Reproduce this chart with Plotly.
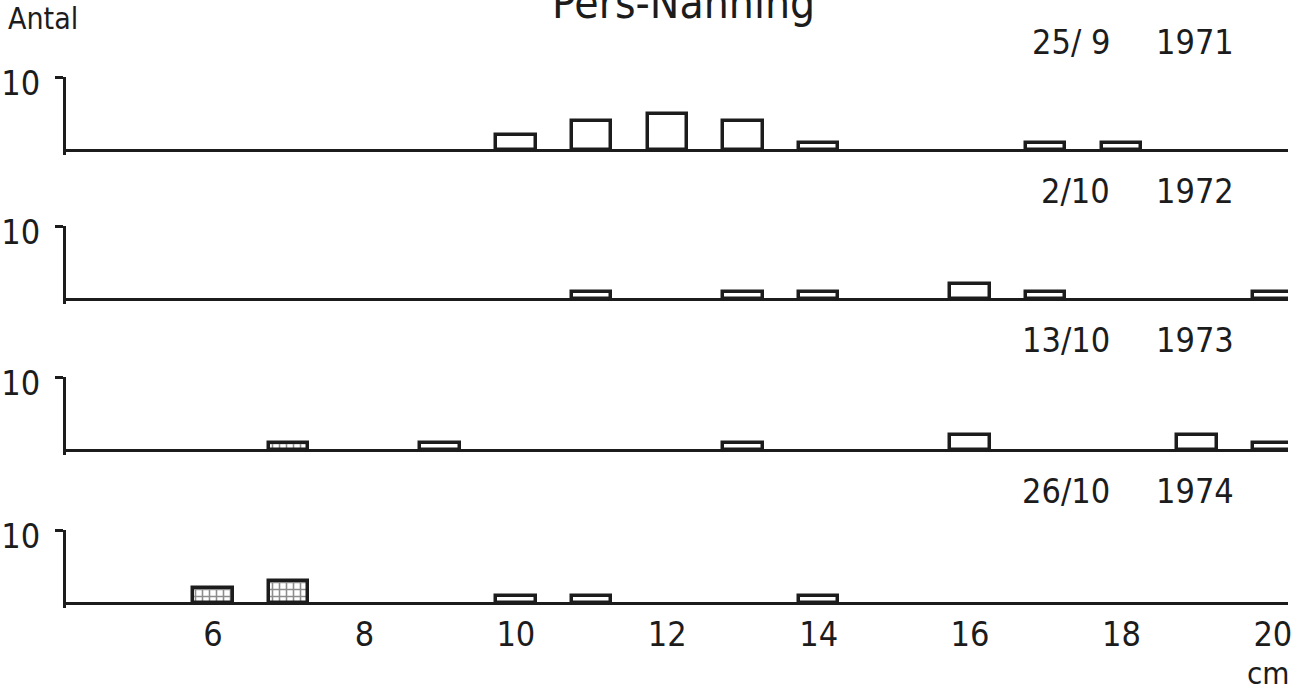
import plotly.graph_objects as go

# ---- data ----
lengths_cm = [6, 7, 8, 9, 10, 11, 12, 13, 14, 15, 16, 17, 18, 19, 20]
panel_dates = ["25/\u00a09", "2/10", "13/10", "26/10"]
panel_years = ["1971", "1972", "1973", "1974"]

# open bars (counts per cm class)
open_1971 = [0, 0, 0, 0, 2, 4, 5, 4, 1, 0, 0, 1, 1, 0, 0]
open_1972 = [0, 0, 0, 0, 0, 1, 0, 1, 1, 0, 2, 1, 0, 0, 1]
open_1973 = [0, 0, 0, 1, 0, 0, 0, 1, 0, 0, 2, 0, 0, 2, 1]
open_1974 = [0, 0, 0, 0, 1, 1, 0, 0, 1, 0, 0, 0, 0, 0, 0]
# hatched bars (counts per cm class)
hatch_1971 = [0] * 15
hatch_1972 = [0] * 15
hatch_1973 = [0, 1, 0, 0, 0, 0, 0, 0, 0, 0, 0, 0, 0, 0, 0]
hatch_1974 = [2, 3, 0, 0, 0, 0, 0, 0, 0, 0, 0, 0, 0, 0, 0]

open_series = [open_1971, open_1972, open_1973, open_1974]
hatch_series = [hatch_1971, hatch_1972, hatch_1973, hatch_1974]

x_ticks = [6, 8, 10, 12, 14, 16, 18, 20]
y_ticks = [10]
title_text = "Pers-Nahning"
y_title = "Antal"
x_unit = "cm"

# ---- layout helpers ----
W, H = 1306, 693
FONT = "Liberation Sans Narrow, DejaVu Sans Condensed, Arial Narrow, sans-serif"
INK = "#1c1c1c"
baselines_px = [150, 299, 450, 603]
label_y_px = [42, 191, 340, 491]
px_per_unit = 7.3
y_lo, y_hi = -0.75, 10
x_range = [4.058, 20.2]
ML, MR = 66, 18


def yp(px):
    return 1 - px / H


def xp(px):
    return (px - ML) / (W - ML - MR)


def nonzero(xs, ys):
    pairs = [(x, y) for x, y in zip(xs, ys) if y]
    return [p[0] for p in pairs], [p[1] for p in pairs]


fig = go.Figure()
layout = dict(
    width=W, height=H,
    margin=dict(l=ML, r=MR, t=0, b=0, autoexpand=False),
    paper_bgcolor="white", plot_bgcolor="white",
    showlegend=False, bargap=0, barmode="overlay",
    font=dict(family=FONT, color=INK, size=34),
)

annotations = []
for i in range(4):
    n = i + 1
    xa = "x" if n == 1 else f"x{n}"
    ya = "y" if n == 1 else f"y{n}"
    base = baselines_px[i]
    top_px = base - px_per_unit * y_hi
    bot_px = base - px_per_unit * y_lo
    ox, oy = nonzero(lengths_cm, open_series[i])
    fig.add_trace(go.Bar(
        x=ox, y=oy, width=0.52,
        marker=dict(color="white", line=dict(color=INK, width=3.5)),
        xaxis=xa, yaxis=ya, hoverinfo="x+y",
    ))
    hx, hy = nonzero(lengths_cm, hatch_series[i])
    fig.add_trace(go.Bar(
        x=hx, y=hy, width=0.52,
        marker=dict(color="white", line=dict(color=INK, width=3.5),
                    pattern=dict(shape="+", fgcolor=INK, bgcolor="white",
                                 size=7, solidity=0.4)),
        xaxis=xa, yaxis=ya, hoverinfo="x+y",
    ))
    xkey = "xaxis" if n == 1 else f"xaxis{n}"
    ykey = "yaxis" if n == 1 else f"yaxis{n}"
    layout[xkey] = dict(
        domain=[0, 1], range=x_range, anchor=ya, automargin=False,
        showgrid=False, zeroline=False, showline=False,
        tickvals=x_ticks, ticks="",
        showticklabels=(n == 4), ticklabelstandoff=3,
        tickfont=dict(size=34, family=FONT, color=INK),
    )
    layout[ykey] = dict(
        domain=[yp(bot_px), yp(top_px)], range=[y_lo, y_hi], anchor=xa, automargin=False,
        showgrid=False, zeroline=True, zerolinecolor=INK, zerolinewidth=3,
        showline=True, linecolor=INK, linewidth=3,
        ticks="outside", tickvals=y_ticks, ticklen=8, tickwidth=2.5, tickcolor=INK,
        ticklabelstandoff=8, ticklabelshift=6,
        tickfont=dict(size=34, family=FONT, color=INK),
    )
    annotations.append(dict(
        text=panel_dates[i], xref="paper", yref="paper",
        x=xp(1112), y=yp(label_y_px[i]),
        xanchor="right", yanchor="middle", showarrow=False,
        font=dict(size=34, family=FONT, color=INK),
    ))
    annotations.append(dict(
        text=panel_years[i], xref="paper", yref="paper",
        x=xp(1236), y=yp(label_y_px[i]),
        xanchor="right", yanchor="middle", showarrow=False,
        font=dict(size=34, family=FONT, color=INK),
    ))

annotations.append(dict(text=y_title, xref="paper", yref="paper",
                        x=xp(6), y=yp(18), xanchor="left", yanchor="middle",
                        showarrow=False, font=dict(size=30, family=FONT, color=INK)))
annotations.append(dict(text=x_unit, xref="paper", yref="paper",
                        x=xp(1292), y=yp(673), xanchor="right", yanchor="middle",
                        showarrow=False, font=dict(size=31, family=FONT, color=INK)))
annotations.append(dict(text=title_text, xref="paper", yref="paper",
                        x=xp(683), y=yp(2), xanchor="center", yanchor="middle",
                        showarrow=False, font=dict(size=44, family=FONT, color=INK)))

layout["annotations"] = annotations
fig.update_layout(**layout)
fig.write_html("out.html")
